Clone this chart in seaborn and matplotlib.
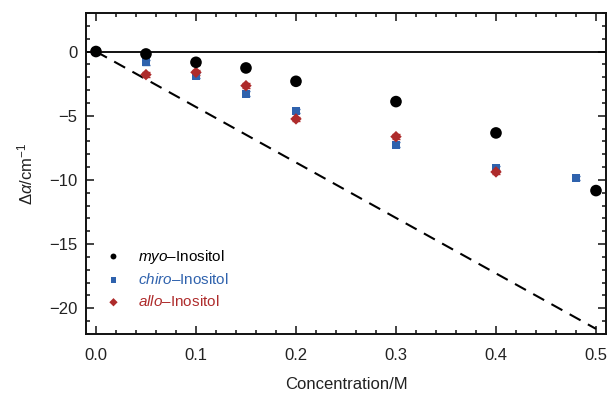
import numpy as np
import pandas as pd
import seaborn as sns
import matplotlib
matplotlib.use("Agg")
import matplotlib.pyplot as plt
from matplotlib.ticker import MultipleLocator

# Data
conc_myo = [0.0, 0.05, 0.1, 0.15, 0.2, 0.3, 0.4, 0.5]
da_myo = [0.0, -0.19, -0.84, -1.28, -2.32, -3.9, -6.34, -10.83]

conc_chiro = [0.0, 0.05, 0.1, 0.15, 0.2, 0.3, 0.4, 0.48]
da_chiro = [0.0, -0.84, -1.88, -3.28, -4.63, -7.25, -9.09, -9.84]

conc_allo = [0.0, 0.05, 0.1, 0.15, 0.2, 0.3, 0.4]
da_allo = [0.0, -1.8, -1.62, -2.66, -5.25, -6.63, -9.38]

err = 0.18
ideal_x = [0.0, 0.5]
ideal_y = [0.0, -21.6]

names = ["myo", "chiro", "allo"]
colors = {"myo": "#000000", "chiro": "#2f62ad", "allo": "#ae2b2b"}
markers = {"myo": "o", "chiro": "s", "allo": "D"}
sizes = {"myo": 70, "chiro": 34, "allo": 34}

rows = []
for nm, xs, ys in zip(names, [conc_myo, conc_chiro, conc_allo],
                      [da_myo, da_chiro, da_allo]):
    for x, y in zip(xs, ys):
        rows.append({"conc": x, "da": y, "series": nm})
df = pd.DataFrame(rows)

sns.set_style("ticks")
plt.rcParams["font.family"] = ["Liberation Sans", "DejaVu Sans"]
plt.rcParams["mathtext.fontset"] = "custom"
plt.rcParams["mathtext.rm"] = "Liberation Sans"
plt.rcParams["mathtext.it"] = "Liberation Sans:italic"

fig = plt.figure(figsize=(6.08, 3.95), dpi=100)
ax = fig.add_axes([0.1414, 0.1544, 0.8553, 0.8127])

# reference lines
ax.axhline(0, color="black", lw=1.3, zorder=1)
ax.plot(ideal_x, ideal_y, color="black", lw=1.5, ls=(0, (6, 4)), zorder=1)

# error bars
for nm in ["chiro", "allo", "myo"]:
    sub = df[df.series == nm]
    ax.errorbar(sub.conc, sub.da, yerr=err, fmt="none", ecolor=colors[nm],
                elinewidth=1, capsize=3, capthick=1, zorder=2)

for nm in ["chiro", "allo", "myo"]:
    sub = df[df.series == nm]
    sns.scatterplot(data=sub, x="conc", y="da", ax=ax, color=colors[nm],
                    marker=markers[nm], s=sizes[nm], edgecolor="none",
                    zorder=3, legend=False)

ax.set_xlim(-0.01, 0.51)
ax.set_ylim(-22, 3)
ax.xaxis.set_major_locator(MultipleLocator(0.1))
ax.xaxis.set_minor_locator(MultipleLocator(0.02))
ax.yaxis.set_major_locator(MultipleLocator(5))
ax.yaxis.set_minor_locator(MultipleLocator(1))
ax.set_xticks(np.arange(0, 0.51, 0.1))
ax.set_xticklabels(["0.0", "0.1", "0.2", "0.3", "0.4", "0.5"])
ax.set_yticks([0, -5, -10, -15, -20])
ax.set_yticklabels(["0", "\u22125", "\u221210", "\u221215", "\u221220"])
ax.tick_params(which="both", direction="in", top=True, right=True,
               labelsize=12, colors="#222222", width=1.2)
ax.tick_params(which="major", length=6)
ax.tick_params(axis="x", which="major", pad=10)
ax.tick_params(axis="y", which="major", pad=6)
ax.tick_params(which="minor", length=3)
for sp in ax.spines.values():
    sp.set_linewidth(1.4)
    sp.set_color("#111111")

ax.set_xlabel("Concentration/M", fontsize=12, labelpad=10, color="#222222")
ax.set_ylabel(r"$\Delta\mathit{\alpha}$/cm$^{-1}$", fontsize=12,
              labelpad=10, color="#222222")

# legend
handles = []
labels = []
for nm in names:
    h = ax.scatter([], [], color=colors[nm], marker=markers[nm],
                   s=18, edgecolor="none")
    handles.append(h)
    labels.append(r"$\mathit{" + nm + "}$\u2013Inositol")
leg = ax.legend(handles, labels, loc="lower left", bbox_to_anchor=(0.0, 0.02),
                frameon=False, fontsize=11, handlelength=1.2,
                handletextpad=1.0, labelspacing=0.45, borderaxespad=0.8)
for txt, nm in zip(leg.get_texts(), names):
    txt.set_color(colors[nm])

fig.savefig("out.png", dpi=100)
